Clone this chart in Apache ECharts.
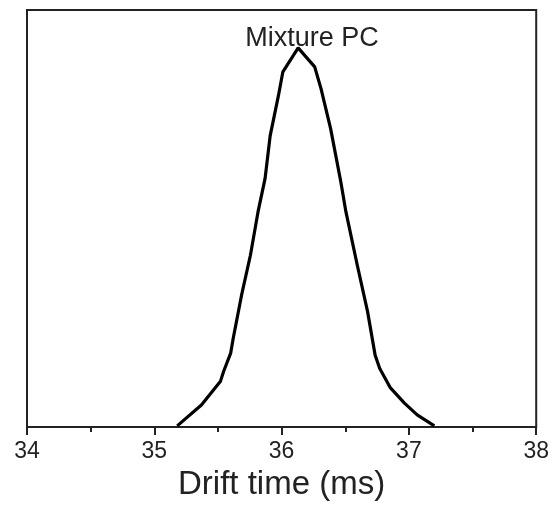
<!DOCTYPE html>
<html><head><meta charset="utf-8">
<script src="https://cdn.jsdelivr.net/npm/echarts@6/dist/echarts.min.js"></script>
<style>html,body{margin:0;padding:0;background:#fff}#c{width:552px;height:506px}</style>
</head><body><div id="c"></div>
<script>
const driftTime = [35.18,35.37,35.52,35.545,35.60,35.62,35.685,35.755,35.815,35.87,35.91,35.975,36.01,36.13,36.26,36.31,36.385,36.465,36.505,36.595,36.675,36.735,36.77,36.855,36.965,37.065,37.20];
const intensity = [0.003,0.058,0.121,0.147,0.195,0.234,0.347,0.453,0.568,0.655,0.768,0.874,0.937,1.0,0.950,0.892,0.787,0.647,0.568,0.426,0.305,0.189,0.155,0.103,0.063,0.032,0.003];
const xTicks = [34,35,36,37,38];
const seriesName = 'Mixture PC';
const xTitle = 'Drift time (ms)';

const chart = echarts.init(document.getElementById('c'), null, {renderer:'canvas'});
const font = 'Liberation Sans, Arial, sans-serif';
chart.setOption({
  animation:false,
  backgroundColor:'#fff',
  grid:{left:27,right:12,top:10,bottom:77,show:true,borderColor:'#222',borderWidth:2,backgroundColor:'transparent'},
  title:{text:seriesName,left:307,top:20,textAlign:'center',
    textStyle:{fontFamily:font,fontSize:27,fontWeight:'normal',color:'#222'}},
  xAxis:{type:'value',min:xTicks[0],max:xTicks[xTicks.length-1],interval:1,
    name:xTitle,nameLocation:'middle',nameGap:41,
    nameTextStyle:{fontFamily:font,fontSize:33,color:'#222'},
    axisLine:{show:true,lineStyle:{color:'#222',width:2}},
    axisTick:{show:true,length:8,lineStyle:{color:'#222',width:2}},
    minorTick:{show:true,splitNumber:2,length:5,lineStyle:{color:'#222',width:2}},
    axisLabel:{fontFamily:font,fontSize:23,color:'#222',margin:13},
    splitLine:{show:false}},
  yAxis:{type:'value',min:0,max:1.1,
    axisLine:{show:false},axisTick:{show:false},axisLabel:{show:false},splitLine:{show:false}},
  series:[{type:'line',name:seriesName,data:driftTime.map((x,i)=>[x,intensity[i]]),
    showSymbol:false,symbol:'none',lineStyle:{color:'#000',width:3.2},z:3}]
});
</script></body></html>
